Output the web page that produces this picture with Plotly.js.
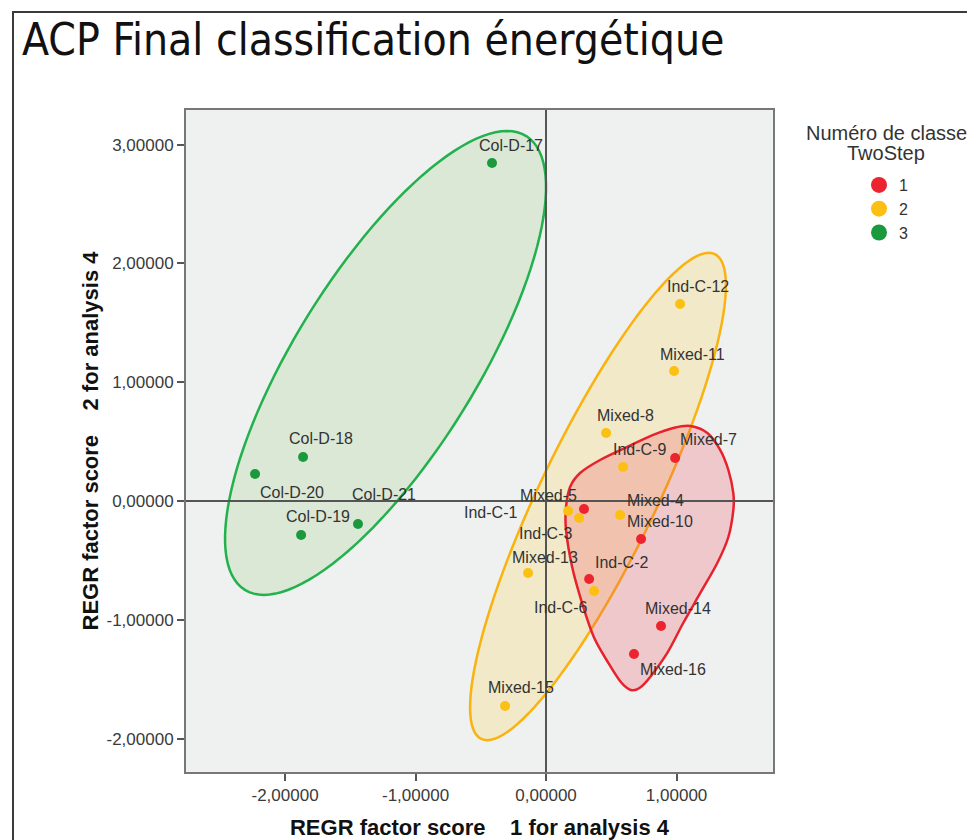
<!DOCTYPE html>
<html>
<head>
<meta charset="utf-8">
<script src="https://cdn.plot.ly/plotly-3.0.1.min.js"></script>
<style>
  html, body { margin: 0; padding: 0; background: #ffffff; }
  #wrap { position: relative; width: 967px; height: 840px; overflow: hidden; }
  #chart { position: absolute; left: 0; top: 0; width: 967px; height: 840px; }
  #frame { position: absolute; left: 12px; top: 11px; width: 1000px; height: 900px;
           border-left: 2px solid #3a3a3a; border-top: 2px solid #3a3a3a; pointer-events: none; }
</style>
</head>
<body>
<div id="wrap">
  <div id="chart"></div>
  <div id="frame"></div>
</div>
<script>
// ---------------- data ----------------
const pointLabels = ["Col-D-17","Col-D-18","Col-D-19","Col-D-20","Col-D-21",
  "Ind-C-12","Mixed-11","Mixed-8","Ind-C-9","Ind-C-1","Ind-C-3","Mixed-4","Mixed-13","Ind-C-6","Mixed-15",
  "Mixed-7","Mixed-5","Mixed-10","Ind-C-2","Mixed-14","Mixed-16"];
const factor1 = [-0.414,-1.862,-1.877,-2.230,-1.441,
  1.027,0.981,0.460,0.590,0.169,0.253,0.567,-0.138,0.368,-0.314,
  0.989,0.291,0.728,0.330,0.881,0.674];
const factor2 = [2.845,0.370,-0.286,0.227,-0.194,
  1.658,1.094,0.572,0.286,-0.084,-0.143,-0.118,-0.606,-0.758,-1.726,
  0.362,-0.067,-0.320,-0.657,-1.052,-1.288];
const classNo = [3,3,3,3,3,
  2,2,2,2,2,2,2,2,2,2,
  1,1,1,1,1,1];
const classNames = ["1","2","3"];
const xTicks = [-2,-1,0,1];
const xTickText = ["-2,00000","-1,00000","0,00000","1,00000"];
const yTicks = [-2,-1,0,1,2,3];
const yTickText = ["-2,00000","-1,00000","0,00000","1,00000","2,00000","3,00000"];
const legendTitle = ["Numéro de classe","TwoStep"];

// ---------------- styles ----------------
const classColors = {1:"#ec2430", 2:"#fcc012", 3:"#1a9a3c"};
// label offsets in screen px [dx, dy(up)]
const labelShift = [[19,17],[18,19],[17,18],[37,-18],[26,30],
  [18,18],[18,17],[19,18],[16,18],[-78,-2],[-34,-16],[35,15],[17,16],[-34,-16],[16,19],
  [33,18],[-36,13],[19,18],[32,17],[17,17],[39,-15]];

// group outlines (drawn shapes): ellipse centre + conjugate half-axes, in data units
const greenEllipse = {c:[-1.230,1.162], u:[1.078,1.910], v:[0.592,-0.404]};
const yellowEllipse = {c:[0.398,0.038], u:[0.895,2.040], v:[0.400,-0.212]};
const redOutline = [[1.105,0.631],[1.236,0.572],[1.335,0.429],[1.397,0.261],[1.435,0.067],
  [1.435,-0.076],[1.397,-0.303],[1.312,-0.522],[1.182,-0.774],[1.051,-1.027],[0.929,-1.279],
  [0.798,-1.481],[0.716,-1.574],[0.649,-1.591],[0.573,-1.524],[0.478,-1.364],[0.366,-1.145],
  [0.276,-0.859],[0.200,-0.556],[0.153,-0.244],[0.153,-0.051],[0.184,0.118],[0.261,0.236],
  [0.414,0.345],[0.622,0.455],[0.821,0.556],[0.975,0.614]];

function ellipsePath(e, n) {
  let s = "";
  for (let i = 0; i <= n; i++) {
    const t = 2 * Math.PI * i / n;
    const x = e.c[0] + e.u[0] * Math.cos(t) + e.v[0] * Math.sin(t);
    const y = e.c[1] + e.u[1] * Math.cos(t) + e.v[1] * Math.sin(t);
    s += (i === 0 ? "M " : " L ") + x.toFixed(4) + "," + y.toFixed(4);
  }
  return s + " Z";
}
function smoothClosedPath(pts) {
  const n = pts.length;
  let s = "M " + pts[0][0] + "," + pts[0][1];
  for (let i = 0; i < n; i++) {
    const p0 = pts[(i - 1 + n) % n], p1 = pts[i], p2 = pts[(i + 1) % n], p3 = pts[(i + 2) % n];
    const c1 = [p1[0] + (p2[0] - p0[0]) / 6, p1[1] + (p2[1] - p0[1]) / 6];
    const c2 = [p2[0] - (p3[0] - p1[0]) / 6, p2[1] - (p3[1] - p1[1]) / 6];
    s += " C " + c1[0].toFixed(4) + "," + c1[1].toFixed(4) + " " + c2[0].toFixed(4) + "," + c2[1].toFixed(4) + " " + p2[0] + "," + p2[1];
  }
  return s + " Z";
}

// ---------------- traces ----------------
const traces = [];
[1,2,3].forEach(k => {
  const xs = [], ys = [], tx = [];
  classNo.forEach((c, i) => { if (c === k) { xs.push(factor1[i]); ys.push(factor2[i]); tx.push(pointLabels[i]); } });
  traces.push({
    type: "scatter", mode: "markers", x: xs, y: ys, text: tx, name: classNames[k-1],
    showlegend: false, hoverinfo: "text",
    marker: {color: classColors[k], size: 10, line: {width: 0}}
  });
});
// legend entries
[1,2,3].forEach(k => {
  traces.push({
    type: "scatter", mode: "markers", x: [null], y: [null], name: classNames[k-1],
    showlegend: true, marker: {color: classColors[k], size: 16, line: {width: 0}}
  });
});

const labelFont = {family: "Liberation Sans, Arial, sans-serif", size: 16, color: "#333333"};
const annotations = pointLabels.map((lab, i) => ({
  x: factor1[i], y: factor2[i], xref: "x", yref: "y", text: lab, showarrow: false,
  xshift: labelShift[i][0], yshift: labelShift[i][1], font: labelFont
}));
// legend title lines
const ltFont = {family: "Liberation Sans, Arial, sans-serif", size: 20, color: "#333333"};
legendTitle.forEach((t, i) => {
  annotations.push({xref: "paper", yref: "paper", x: (886-186)/587, y: (772-(133+20*i))/662,
    xanchor: "center", yanchor: "middle", text: t, showarrow: false, font: ltFont});
});

const shapes = [
  {type: "path", path: ellipsePath(greenEllipse, 120), xref: "x", yref: "y", layer: "below",
   line: {color: "#22b14c", width: 2.5}, fillcolor: "rgba(110,190,70,0.15)"},
  {type: "path", path: ellipsePath(yellowEllipse, 120), xref: "x", yref: "y", layer: "below",
   line: {color: "#f9b20e", width: 2.5}, fillcolor: "rgba(250,210,80,0.25)"},
  {type: "path", path: smoothClosedPath(redOutline), xref: "x", yref: "y", layer: "below",
   line: {color: "#e8222d", width: 2.5}, fillcolor: "rgba(240,80,95,0.25)"}
];

const tickFont = {family: "Liberation Sans, Arial, sans-serif", size: 17, color: "#3a3a3a"};
const axTitleFont = {family: "Liberation Sans, Arial, sans-serif", size: 22, color: "#111111", weight: "bold"};
const layout = {
  width: 967, height: 840,
  margin: {l: 186, r: 194, t: 110, b: 68, pad: 0},
  paper_bgcolor: "rgba(0,0,0,0)",
  plot_bgcolor: "#eff0f0",
  title: {text: "ACP Final classification énergétique", x: 22/967, xanchor: "left", xref: "container",
          y: 1 - 40/840, yanchor: "middle", yref: "container",
          font: {family: "Liberation Sans Narrow, DejaVu Sans Condensed, sans-serif", size: 44, color: "#111111"}},
  xaxis: {range: [-2.759, 1.739], tickvals: xTicks, ticktext: xTickText, ticks: "outside", ticklen: 7,
          tickwidth: 2, tickcolor: "#555555", showgrid: false, zeroline: true, zerolinecolor: "#555555",
          zerolinewidth: 1.5, showline: true, linecolor: "#777777", linewidth: 2, mirror: true,
          tickfont: tickFont, automargin: false,
          title: {text: "REGR factor score\u00a0\u00a0\u00a0 1 for analysis 4", standoff: 18, font: axTitleFont}},
  yaxis: {range: [-2.281, 3.291], tickvals: yTicks, ticktext: yTickText, ticks: "outside", ticklen: 7,
          tickwidth: 2, tickcolor: "#555555", showgrid: false, zeroline: true, zerolinecolor: "#555555",
          zerolinewidth: 1.5, showline: true, linecolor: "#777777", linewidth: 2, mirror: true,
          tickfont: tickFont, automargin: false,
          title: {text: "REGR factor score\u00a0\u00a0\u00a0 2 for analysis 4", standoff: 2, font: axTitleFont}},
  legend: {x: (859-186)/587, xanchor: "left", y: (772-168)/662, yanchor: "top",
           bgcolor: "rgba(0,0,0,0)", tracegroupgap: 0, itemwidth: 30,
           font: {family: "Liberation Sans, Arial, sans-serif", size: 16, color: "#333333"}},
  shapes: shapes,
  annotations: annotations,
  showlegend: true
};

Plotly.newPlot("chart", traces, layout, {displayModeBar: false, staticPlot: true});
</script>
</body>
</html>
